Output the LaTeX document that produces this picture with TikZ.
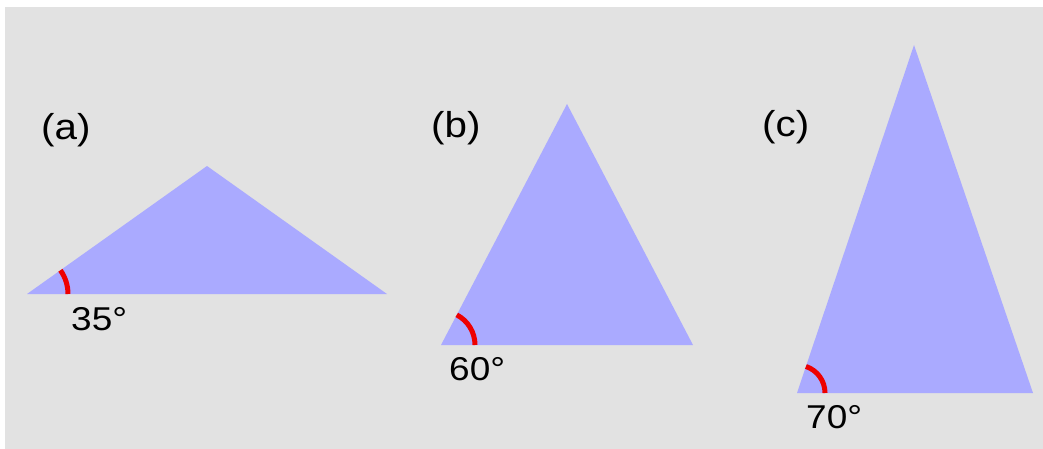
\documentclass[tikz,border=0pt]{standalone}
\usepackage{fontspec}
\setmainfont{Liberation Sans}
\newfontfamily\labelfont[FakeStretch=1.12]{Liberation Sans}
\definecolor{panelgray}{HTML}{E2E2E2}
\definecolor{trifill}{HTML}{AAAAFF}
\definecolor{arcred}{HTML}{EE0000}
\tikzset{
  tri/.style={fill=trifill, draw=none},
  anglearc/.style={draw=arcred, line width=5pt},
  caption/.style={anchor=base west, inner sep=0pt, font=\labelfont\fontsize{36}{40}\selectfont},
  degree/.style={anchor=base west, inner sep=0pt, font=\labelfont\fontsize{33}{36}\selectfont}
}
\begin{document}
\begin{tikzpicture}[y=1pt, x=1pt, yscale=-1]
\useasboundingbox (0,0) rectangle (1043,449);
\path[fill=white] (0,0) rectangle (1043,449);
\path[fill=panelgray] (5,7) rectangle (1043,449);
% triangle (a)
\coordinate (aL) at (27,294);
\coordinate (aT) at (207,166);
\coordinate (aR) at (387,294);
\path[tri] (aL) -- (aT) -- (aR) -- cycle;
\draw[anglearc] ([xshift=41pt]aL) arc[start angle=0, end angle=-35.4, radius=41];
\node[caption] (capA) at (41,140) {(a)};
\node[degree] (degA) at (71,330) {35°};
% triangle (b)
\coordinate (bL) at (441,345);
\coordinate (bT) at (567,104);
\coordinate (bR) at (693,345);
\path[tri] (bL) -- (bT) -- (bR) -- cycle;
\draw[anglearc] ([xshift=34pt]bL) arc[start angle=0, end angle=-62.4, radius=34];
\node[caption] (capB) at (431,138) {(b)};
\node[degree] (degB) at (449,380) {60°};
% triangle (c)
\coordinate (cL) at (797,393);
\coordinate (cT) at (914,45);
\coordinate (cR) at (1033,393);
\path[tri] (cL) -- (cT) -- (cR) -- cycle;
\draw[anglearc] ([xshift=28pt]cL) arc[start angle=0, end angle=-71.4, radius=28];
\node[caption] (capC) at (762,137) {(c)};
\node[degree] (degC) at (806,428) {70°};
\end{tikzpicture}
\end{document}
